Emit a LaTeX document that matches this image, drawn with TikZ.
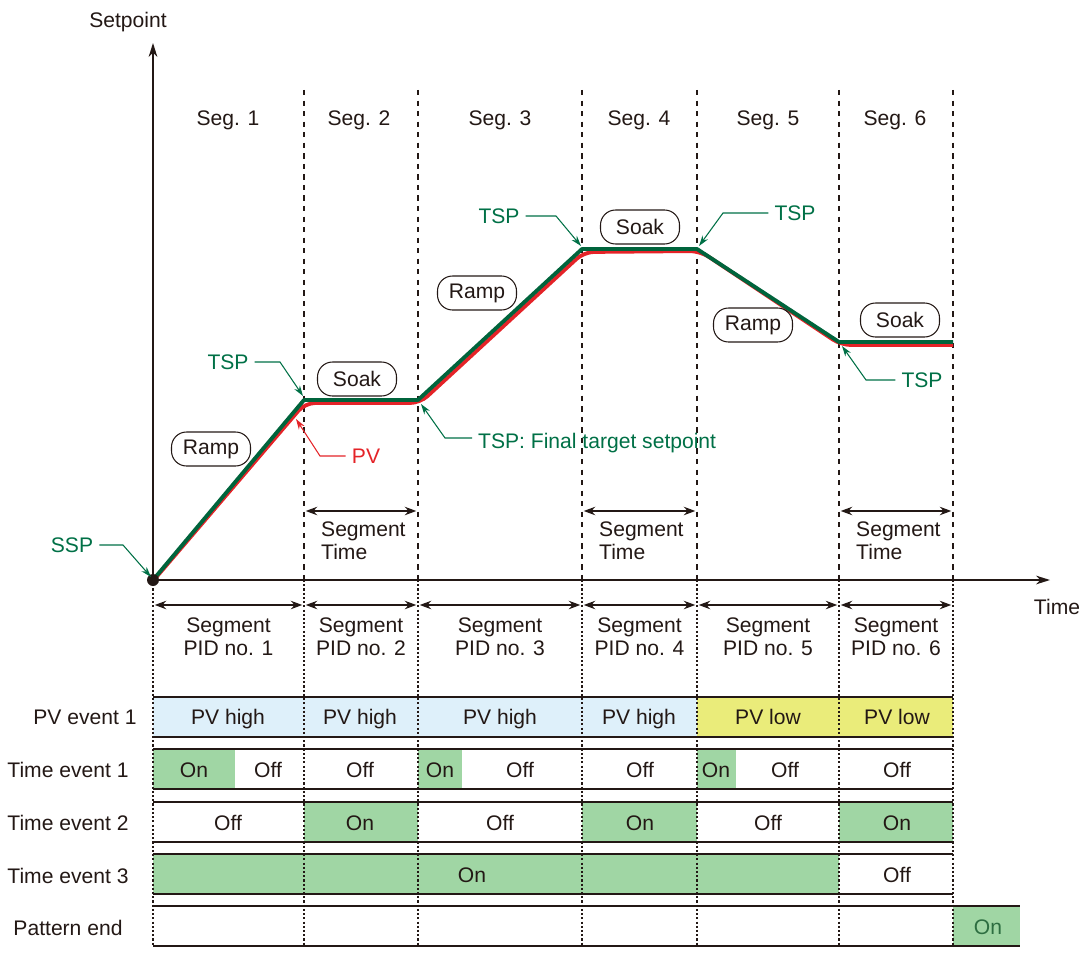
\documentclass[tikz,border=0pt]{standalone}
\usepackage{fontspec}
\setmainfont{Liberation Sans}
\usetikzlibrary{arrows.meta}

\definecolor{ink}{RGB}{35,24,21}
\definecolor{tspgreen}{RGB}{0,112,70}
\definecolor{linegreen}{RGB}{0,100,60}
\definecolor{pvred}{RGB}{228,35,40}
\definecolor{onfill}{RGB}{160,214,164}
\definecolor{highfill}{RGB}{222,240,250}
\definecolor{lowfill}{RGB}{234,236,122}
\definecolor{ongreen}{RGB}{45,110,65}

\begin{document}
\begin{tikzpicture}[x=0.02cm, y=-0.02cm,
  every node/.style={font=\fontsize{12}{13}\selectfont, text=ink},
  celltext/.style={text height=8.6pt, text depth=0pt},
  phasebox/.style={draw=ink, line width=0.6pt, rounded corners=0.3cm,
    minimum width=1.58cm, minimum height=0.68cm, inner sep=0pt},
  axisline/.style={ink, line width=0.8pt, -{Stealth[length=8pt,width=5pt]}},
  dimline/.style={ink, line width=0.8pt,
    {Stealth[length=6.5pt,width=4.8pt]}-{Stealth[length=6.5pt,width=4.8pt]}},
  segdash/.style={ink, line width=0.6pt, dash pattern=on 3pt off 3pt},
  rowdot/.style={ink, line width=0.6pt, dash pattern=on 1.2pt off 1.2pt},
  rowline/.style={ink, line width=0.8pt},
  tspnote/.style={line width=0.6pt, -{Stealth[length=6pt,width=3.8pt]}},
]
  \useasboundingbox (0,0) rectangle (1088,956);

  % hjørner i profilen
  \coordinate (p0) at (153,580);
  \coordinate (p1) at (304,400);
  \coordinate (p2) at (418,400);
  \coordinate (p3) at (582,249);
  \coordinate (p4) at (697,249);
  \coordinate (p5) at (839,342);
  \coordinate (p6) at (953,342);

  % fargede felt i hendelsesradene
  \fill[highfill] (153,697) rectangle (697,737);
  \fill[lowfill] (697,697) rectangle (953,737);
  \fill[onfill] (153,749) rectangle (235,789);
  \fill[onfill] (418,749) rectangle (462,789);
  \fill[onfill] (697,749) rectangle (736,789);
  \fill[onfill] (304,802) rectangle (418,842);
  \fill[onfill] (582,802) rectangle (697,842);
  \fill[onfill] (839,802) rectangle (953,842);
  \fill[onfill] (153,854) rectangle (839,894);
  \fill[onfill] (953,906) rectangle (1020,946);

  % segmentgrenser
  \foreach \x in {304,418,582,697,839,953}
    \draw[segdash] (\x,90) -- (\x,580);
  \foreach \x in {153,304,418,582,697,839,953}
    \draw[rowdot] (\x,580) -- (\x,946);

  % koordinatakser
  \coordinate (ytop) at (153,43);
  \coordinate (xend) at (1050,580);
  \draw[axisline] (p0) -- (ytop);
  \draw[axisline] (p0) -- (xend);
  \node (ylab) at (128,22) {Setpoint};
  \node (xlab) at (1057,607) {Time};

  \foreach \x [count=\n] in {228,359,500,639,768,895}
    \node (seg\n) at (\x,120) {Seg. \n};

  % PV og settpunkt
  \draw[pvred, line width=2.2pt, rounded corners=0.2cm]
    (153,581) -- (305,403) -- (420,403) -- (584,252) -- (700,251)
    -- (841,345) -- (953,345);
  \draw[linegreen, line width=2.2pt, line join=round]
    (p0) -- (p1) -- (p2) -- (p3) -- (p4) -- (p5) -- (p6);
  \fill[ink] (p0) circle (0.12cm);

  % ramp og soak
  \node[phasebox] (ramp1) at (211,449) {Ramp};
  \node[phasebox] (soak1) at (357,379) {Soak};
  \node[phasebox] (ramp2) at (477,293) {Ramp};
  \node[phasebox] (soak2) at (640,227) {Soak};
  \node[phasebox] (ramp3) at (753,325) {Ramp};
  \node[phasebox] (soak3) at (900,320) {Soak};

  % merknader
  \coordinate (tipssp) at (151,577);
  \coordinate (tip1) at (303,396);
  \coordinate (tippv) at (296,419);
  \coordinate (tipf) at (421,404);
  \coordinate (tip3) at (581,246);
  \coordinate (tip4) at (699,246);
  \coordinate (tip5) at (842,346);
  \node[text=tspgreen] (ssp) at (72,545) {SSP};
  \node[text=tspgreen] (tsp1) at (228,362) {TSP};
  \node[text=pvred] (pv) at (366,456) {PV};
  \node[text=tspgreen, anchor=west] (tspf) at (472,443) {TSP: Final target setpoint};
  \node[text=tspgreen] (tsp3) at (499,216) {TSP};
  \node[text=tspgreen] (tsp4) at (795,213) {TSP};
  \node[text=tspgreen] (tsp5) at (922,380) {TSP};
  \draw[tspnote, tspgreen] (ssp.east) -- (123,545) -- (tipssp);
  \draw[tspnote, tspgreen] (tsp1.east) -- (280,362) -- (tip1);
  \draw[tspnote, pvred] (pv.west) -- (320,456) -- (tippv);
  \draw[tspnote, tspgreen] ([yshift=0.1cm]tspf.west) -- (445,438) -- (tipf);
  \draw[tspnote, tspgreen] (tsp3.east) -- (556,216) -- (tip3);
  \draw[tspnote, tspgreen] (tsp4.west) -- (723,213) -- (tip4);
  \draw[tspnote, tspgreen] (tsp5.west) -- (866,380) -- (tip5);

  % segmenttid
  \foreach \a/\b [count=\n] in {304/418, 582/697, 839/953}{
    \coordinate (ta\n) at (\a,511);
    \coordinate (tb\n) at (\b,511);
    \draw[dimline, shorten <=1pt, shorten >=1pt] (ta\n) -- (tb\n);
    \node[anchor=west, align=left] (stime\n) at (\a+11,541) {Segment\\Time};
  }

  % PID per segment
  \foreach \a/\b [count=\n] in {153/304, 304/418, 418/582, 582/697, 697/839, 839/953}{
    \coordinate (pa\n) at (\a,605);
    \coordinate (pb\n) at (\b,605);
    \draw[dimline, shorten <=1pt, shorten >=1pt] (pa\n) -- (pb\n);
    \node[align=center] (pid\n) at ({(\a+\b)/2},637) {Segment\\PID no. \n};
  }

  % hendelsesrader
  \foreach \t in {697,749,802,854}{
    \draw[rowline] (153,\t) -- (953,\t);
    \draw[rowline] (153,\t+40) -- (953,\t+40);
  }
  \draw[rowline] (153,906) -- (1020,906);
  \draw[rowline] (153,946) -- (1020,946);

  \node[celltext] (lpv) at (85,717) {PV event 1};
  \node[celltext] (lte1) at (68,770) {Time event 1};
  \node[celltext] (lte2) at (68,823) {Time event 2};
  \node[celltext] (lte3) at (68,876) {Time event 3};
  \node[celltext] (lend) at (68,928) {Pattern end};

  \foreach \x/\s [count=\i] in {228/PV high, 360/PV high, 500/PV high,
      639/PV high, 768/PV low, 897/PV low}
    \node[celltext] (pve\i) at (\x,717) {\s};
  \foreach \x/\s [count=\i] in {194/On, 268/Off, 360/Off, 440/On, 520/Off,
      640/Off, 716/On, 785/Off, 897/Off}
    \node[celltext] (tea\i) at (\x,770) {\s};
  \foreach \x/\s [count=\i] in {228/Off, 360/On, 500/Off, 640/On, 768/Off, 897/On}
    \node[celltext] (teb\i) at (\x,823) {\s};
  \node[celltext] (tec1) at (472,875) {On};
  \node[celltext] (tec2) at (897,875) {Off};
  \node[celltext, text=ongreen] (pend) at (988,927) {On};
\end{tikzpicture}
\end{document}
